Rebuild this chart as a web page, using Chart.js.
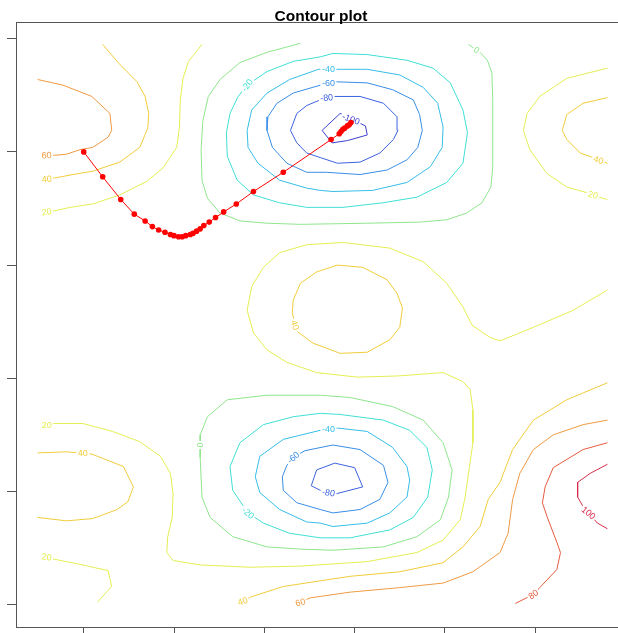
<!DOCTYPE html>
<html>
<head>
<meta charset="utf-8">
<script src="https://cdn.jsdelivr.net/npm/chart.js@4.4.0/dist/chart.umd.min.js"></script>
<style>
    html, body { margin: 0; padding: 0; background: #fff; overflow: hidden; }
    #wrap { width: 640px; height: 640px; position: relative; }
</style>
</head>
<body>
<div id="wrap"><canvas id="contourChart"></canvas></div>
<script>
// Axis ticks (no labels shown on the reference, only the tick marks)
const xTicks = [0, 1, 2, 3, 4, 5];
const yTicks = [0, 1, 2, 3, 4, 5];

// Contour levels and their colours
const levels = [-100, -80, -60, -40, -20, 0, 20, 40, 60, 80, 100];
const levelColors = ['#3c3fcc', '#3d62df', '#3a8de6', '#36bde8', '#3fdfd6', '#8fe68c',
                     '#e4ee52', '#f2cc3a', '#ef9a42', '#e65a40', '#d42c48'];

// Contour lines, as [x, y]
const c60TopLeft = [[-0.51,4.64],[-0.23,4.59],[0.09,4.49],[0.29,4.34],[0.31,4.19],[0.27,4.13],[0.10,4.04],[-0.04,4.02],[-0.19,3.98],[-0.32,3.97],[-0.45,3.965]];
const c40TopLeft = [[0.21,4.95],[0.38,4.79],[0.59,4.62],[0.68,4.49],[0.72,4.34],[0.71,4.21],[0.62,4.04],[0.40,3.91],[0.10,3.83],[-0.12,3.80],[-0.32,3.77],[-0.45,3.76]];
const c20TopLeft = [[1.31,4.95],[1.16,4.80],[1.10,4.65],[1.07,4.46],[1.06,4.22],[1.03,4.04],[0.88,3.86],[0.70,3.74],[0.40,3.62],[0.10,3.54],[-0.15,3.51],[-0.32,3.48],[-0.45,3.47]];
const c0Top = [[2.40,4.96],[2.03,4.88],[1.73,4.79],[1.51,4.64],[1.38,4.49],[1.32,4.28],[1.30,4.02],[1.31,3.75],[1.37,3.59],[1.51,3.46],[1.73,3.39],[2.03,3.37],[2.40,3.36],[3.14,3.37],[3.72,3.38],[4.02,3.40],[4.24,3.46],[4.41,3.55],[4.51,3.69],[4.53,3.87],[4.53,4.46],[4.52,4.70],[4.47,4.81],[4.39,4.88],[4.26,4.95]];
const cM20Top = [[2.62,4.84],[2.32,4.80],[2.03,4.71],[1.81,4.59],[1.71,4.49],[1.62,4.34],[1.58,4.17],[1.59,3.96],[1.70,3.75],[1.88,3.62],[2.17,3.55],[2.47,3.51],[2.87,3.51],[3.31,3.55],[3.69,3.60],[4.02,3.73],[4.20,3.90],[4.25,4.17],[4.20,4.37],[4.06,4.61],[3.87,4.74],[3.58,4.81],[3.14,4.86],[2.76,4.87],[2.62,4.84]];
const cM40Top = [[2.60,4.73],[2.28,4.64],[2.03,4.52],[1.86,4.37],[1.81,4.19],[1.82,4.04],[1.93,3.90],[2.17,3.75],[2.47,3.68],[2.62,3.66],[2.76,3.65],[3.20,3.66],[3.58,3.73],[3.84,3.87],[3.97,4.04],[3.98,4.22],[3.92,4.43],[3.76,4.57],[3.50,4.68],[3.14,4.73],[2.78,4.73],[2.60,4.73]];
const cM60Top = [[2.62,4.59],[2.32,4.52],[2.14,4.43],[2.04,4.31],[2.03,4.19],[2.09,4.04],[2.25,3.90],[2.47,3.82],[2.69,3.82],[3.06,3.80],[3.36,3.84],[3.58,3.93],[3.70,4.04],[3.75,4.19],[3.72,4.33],[3.65,4.46],[3.42,4.55],[3.14,4.61],[2.78,4.62],[2.62,4.59]];
const cM80Top = [[2.62,4.46],[2.47,4.41],[2.36,4.34],[2.29,4.19],[2.36,4.08],[2.47,3.99],[2.62,3.95],[2.81,3.90],[3.06,3.91],[3.28,3.99],[3.43,4.11],[3.48,4.19],[3.47,4.31],[3.32,4.43],[3.06,4.49],[2.76,4.49],[2.62,4.46]];
const cM100 = [[2.87,4.33],[2.84,4.34],[2.64,4.19],[2.75,4.08],[2.92,4.10],[3.14,4.15],[3.12,4.23],[3.04,4.26],[2.96,4.30],[2.87,4.33]];
const c20TopRight = [[5.80,4.74],[5.35,4.65],[5.05,4.49],[4.91,4.34],[4.87,4.19],[4.94,4.02],[5.13,3.81],[5.35,3.69],[5.57,3.64],[5.64,3.62],[5.75,3.59],[5.80,3.58]];
const c40TopRight = [[5.80,4.48],[5.53,4.43],[5.35,4.33],[5.30,4.19],[5.35,4.11],[5.50,3.99],[5.64,3.95],[5.70,3.93],[5.80,3.90]];
const c20Middle = [[5.80,2.78],[5.42,2.60],[4.98,2.45],[4.61,2.33],[4.50,2.36],[4.30,2.47],[4.20,2.63],[4.02,2.84],[3.76,3.03],[3.39,3.15],[2.87,3.20],[2.47,3.18],[2.17,3.11],[1.99,2.98],[1.86,2.81],[1.81,2.60],[1.88,2.40],[2.03,2.25],[2.25,2.14],[2.58,2.05],[3.03,2.01],[3.47,2.02],[3.98,2.05],[4.20,1.97],[4.28,1.90],[4.31,1.72],[4.31,1.43],[4.26,1.15],[4.22,0.93],[4.17,0.75],[3.98,0.57],[3.69,0.46],[3.14,0.38],[2.40,0.34],[1.84,0.33],[1.29,0.35],[0.99,0.39],[0.92,0.46],[0.93,0.60],[0.98,0.77],[0.99,0.98],[0.96,1.16],[0.85,1.31],[0.62,1.44],[0.32,1.53],[-0.01,1.60],[-0.32,1.60],[-0.45,1.60]];
const c40Center = [[2.31,2.58],[2.34,2.47],[2.37,2.41],[2.54,2.31],[2.84,2.22],[3.14,2.23],[3.39,2.34],[3.50,2.45],[3.53,2.62],[3.47,2.75],[3.36,2.87],[3.09,2.98],[2.81,3.00],[2.58,2.94],[2.40,2.84],[2.32,2.69],[2.31,2.58]];
const c40Left = [[-0.51,1.34],[-0.19,1.35],[0.09,1.33],[0.44,1.22],[0.55,1.04],[0.49,0.91],[0.37,0.84],[0.10,0.76],[-0.19,0.74],[-0.51,0.77]];
const c0Bottom = [[1.29,1.30],[1.31,0.95],[1.40,0.77],[1.65,0.60],[2.03,0.51],[2.40,0.49],[2.76,0.48],[3.32,0.51],[3.69,0.60],[3.95,0.75],[4.04,0.95],[4.08,1.19],[3.98,1.43],[3.76,1.63],[3.42,1.75],[2.95,1.83],[2.62,1.85],[2.03,1.85],[1.59,1.81],[1.37,1.66],[1.29,1.50],[1.29,1.30]];
const cM20Bottom = [[2.62,1.69],[2.32,1.66],[1.99,1.59],[1.73,1.43],[1.62,1.22],[1.65,1.01],[1.82,0.81],[1.99,0.72],[2.28,0.63],[2.62,0.59],[2.95,0.59],[3.39,0.66],[3.65,0.77],[3.81,0.95],[3.86,1.19],[3.80,1.39],[3.61,1.54],[3.32,1.63],[2.84,1.68],[2.62,1.69]];
const cM40Bottom = [[2.62,1.54],[2.21,1.46],[1.95,1.31],[1.90,1.13],[1.95,0.99],[2.17,0.84],[2.47,0.73],[2.62,0.72],[2.76,0.69],[3.14,0.72],[3.39,0.81],[3.58,0.95],[3.61,1.10],[3.58,1.22],[3.42,1.39],[3.14,1.53],[2.81,1.56],[2.62,1.54]];
const cM60Bottom = [[2.45,1.36],[2.76,1.41],[3.06,1.37],[3.32,1.23],[3.37,1.08],[3.28,0.93],[3.06,0.84],[2.76,0.81],[2.62,0.84],[2.36,0.90],[2.21,1.01],[2.20,1.13],[2.25,1.23],[2.32,1.30],[2.45,1.36]];
const cM80Bottom = [[2.62,1.01],[2.52,1.05],[2.58,1.19],[2.78,1.25],[3.00,1.21],[3.09,1.04],[2.80,0.98],[2.69,0.99],[2.62,1.01]];
const c20BottomLeft = [[-0.45,0.42],[-0.32,0.40],[-0.01,0.35],[0.27,0.30],[0.31,0.16],[0.15,0.02]];
const c40Bottom = [[1.76,0.03],[1.86,0.07],[2.21,0.16],[2.62,0.21],[2.95,0.25],[3.50,0.29],[3.98,0.37],[4.20,0.51],[4.39,0.69],[4.48,0.93],[4.61,1.08],[4.75,1.37],[4.98,1.63],[5.35,1.81],[5.80,1.96]];
const c60Bottom = [[2.36,0.01],[2.51,0.06],[2.95,0.11],[3.50,0.15],[3.98,0.19],[4.31,0.29],[4.61,0.46],[4.70,0.63],[4.75,0.93],[4.83,1.16],[4.98,1.37],[5.20,1.50],[5.53,1.59],[5.80,1.63]];
const c80Right = [[5.80,1.43],[5.53,1.37],[5.20,1.21],[5.11,1.04],[5.08,0.90],[5.13,0.78],[5.24,0.55],[5.28,0.46],[5.24,0.31],[5.05,0.15],[4.98,0.09],[4.78,0.01]];
const c100Right = [[5.80,1.24],[5.61,1.16],[5.47,1.08],[5.47,0.95],[5.52,0.88],[5.59,0.81],[5.69,0.72],[5.80,0.67]];

// level of every line above
const contourLines = [
    [60, c60TopLeft], [40, c40TopLeft], [20, c20TopLeft], [0, c0Top],
    [-20, cM20Top], [-40, cM40Top], [-60, cM60Top], [-80, cM80Top], [-100, cM100],
    [20, c20TopRight], [40, c40TopRight], [20, c20Middle], [40, c40Center],
    [40, c40Left], [0, c0Bottom], [-20, cM20Bottom], [-40, cM40Bottom],
    [-60, cM60Bottom], [-80, cM80Bottom], [20, c20BottomLeft], [40, c40Bottom],
    [60, c60Bottom], [80, c80Right], [100, c100Right]
];

// Contour labels
const labelText  = ['60', '40', '20', '-20', '-40', '-60', '-80', '-100', '0', '20', '40', '40',
                    '20', '40', '0', '-20', '-40', '-60', '-80', '20', '40', '60', '80', '100'];
const labelX     = [-0.41, -0.41, -0.41, 1.81, 2.71, 2.71, 2.69, 2.96, 4.35, 5.64, 5.70, 2.34,
                    -0.41, -0.01, 1.29, 1.82, 2.71, 2.32, 2.71, -0.41, 1.76, 2.40, 4.98, 5.59];
const labelY     = [3.97, 3.76, 3.47, 4.59, 4.73, 4.61, 4.48, 4.29, 4.90, 3.62, 3.93, 2.47,
                    1.59, 1.34, 1.41, 0.81, 1.55, 1.30, 0.99, 0.42, 0.03, 0.02, 0.09, 0.81];
const labelAngle = [-3, -5, -8, -55, 0, 0, -5, 20, 35, 15, 20, 75,
                    0, 0, 90, 40, 0, -40, 10, 8, -20, -15, -35, 40];

// Gradient descent path
const pathX = [0.00, 0.21, 0.41, 0.56, 0.68, 0.76, 0.83, 0.90, 0.96, 1.00, 1.05, 1.09, 1.13, 1.18,
               1.21, 1.25, 1.29, 1.33, 1.39, 1.46, 1.55, 1.69, 1.88, 2.21, 2.74, 2.83, 2.85, 2.87,
               2.89, 2.92, 2.94, 2.96];
const pathY = [4.00, 3.78, 3.58, 3.45, 3.39, 3.34, 3.31, 3.29, 3.27, 3.26, 3.25, 3.25, 3.26, 3.27,
               3.28, 3.30, 3.32, 3.35, 3.38, 3.42, 3.47, 3.54, 3.65, 3.82, 4.11, 4.16, 4.18, 4.20,
               4.21, 4.23, 4.24, 4.26];

document.addEventListener('DOMContentLoaded', () => {
    const ctx = document.getElementById('contourChart').getContext('2d');

    const colorOf = level => levelColors[levels.indexOf(level)];

    // gradient path first so it is drawn on top
    const datasets = [{
        label: 'path',
        data: pathX.map((x, i) => ({ x: x, y: pathY[i] })),
        showLine: true,
        borderColor: '#ff0000',
        backgroundColor: '#ff0000',
        borderWidth: 1,
        pointRadius: 2.8,
        pointBorderWidth: 0,
        tension: 0
    }];
    contourLines.forEach(([level, pts]) => {
        datasets.push({
            label: String(level),
            data: pts.map(p => ({ x: p[0], y: p[1] })),
            showLine: true,
            borderColor: colorOf(level),
            borderWidth: 1,
            pointRadius: 0,
            tension: 0
        });
    });

    // contour labels, drawn just before the path
    const labelPlugin = {
        id: 'contourLabels',
        beforeDatasetDraw(chart, args) {
            if (args.index !== 0) return;
            const c = chart.ctx;
            const xs = chart.scales.x, ys = chart.scales.y;
            c.save();
            c.font = '9px "Liberation Sans", Arial, sans-serif';
            c.textAlign = 'center';
            c.textBaseline = 'middle';
            labelText.forEach((t, i) => {
                const px = xs.getPixelForValue(labelX[i]);
                const py = ys.getPixelForValue(labelY[i]);
                const w = c.measureText(t).width;
                c.save();
                c.translate(px, py);
                c.rotate(labelAngle[i] * Math.PI / 180);
                c.fillStyle = '#ffffff';
                c.fillRect(-w / 2 - 1.5, -4, w + 3, 8);
                c.fillStyle = colorOf(Number(t));
                c.fillText(t, 0, 0.5);
                c.restore();
            });
            c.restore();
        }
    };

    // box round the plot and title
    const framePlugin = {
        id: 'frame',
        afterDraw(chart) {
            const c = chart.ctx;
            const a = chart.chartArea;
            c.save();
            c.strokeStyle = '#555555';
            c.lineWidth = 1;
            c.strokeRect(Math.round(a.left) + 0.5, Math.round(a.top) + 0.5,
                         Math.round(a.right - a.left), Math.round(a.bottom - a.top));
            c.fillStyle = '#000000';
            c.font = 'bold 15.5px "Liberation Sans", Arial, sans-serif';
            c.textAlign = 'center';
            c.textBaseline = 'alphabetic';
            c.fillText('Contour plot', (a.left + a.right) / 2 - 2, 20.5);
            c.restore();
        }
    };

    const axisOpts = (min, max, ticks) => ({
        type: 'linear',
        min: min,
        max: max,
        afterBuildTicks: axis => { axis.ticks = ticks.map(v => ({ value: v })); },
        ticks: { display: false },
        grid: { drawOnChartArea: false, drawTicks: true, tickLength: 9, color: '#555555' },
        border: { display: true, color: '#555555' }
    });

    new Chart(ctx, {
        type: 'scatter',
        data: { datasets: datasets },
        options: {
            responsive: true,
            maintainAspectRatio: false,
            animation: false,
            layout: { padding: { left: 7, top: 22, right: 10, bottom: 4 } },
            plugins: {
                legend: { display: false },
                tooltip: { enabled: false },
                title: { display: false }
            },
            scales: {
                x: axisOpts(-0.75, 6.05, xTicks),
                y: axisOpts(-0.198, 5.148, yTicks)
            }
        },
        plugins: [labelPlugin, framePlugin]
    });
});
</script>
</body>
</html>
